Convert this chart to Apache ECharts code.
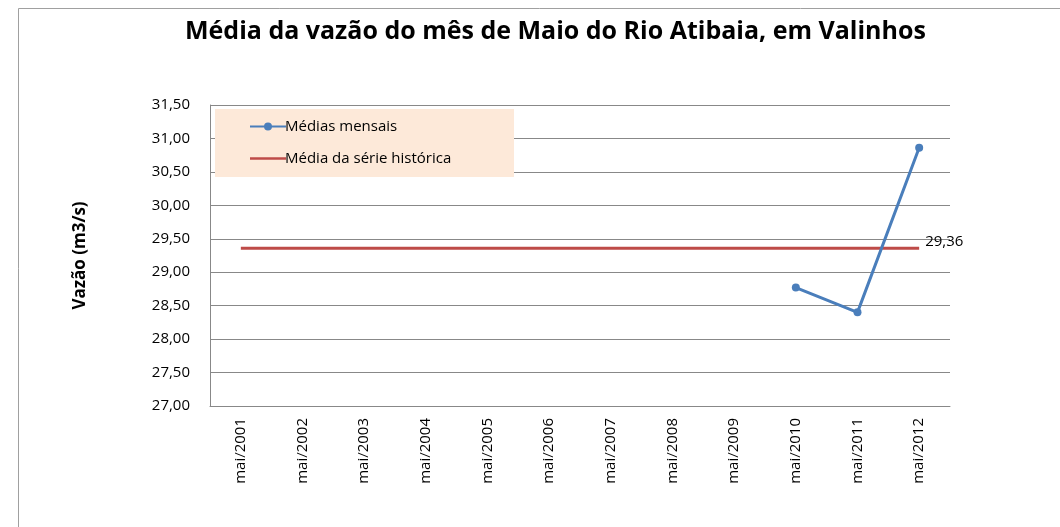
<!DOCTYPE html>
<html>
<head>
<meta charset="utf-8">
<script src="https://cdn.jsdelivr.net/npm/echarts@6/dist/echarts.min.js"></script>
<style>
  html, body { margin: 0; padding: 0; background: #fff; }
  #chart { width: 1060px; height: 527px; }
</style>
</head>
<body>
<div id="chart"></div>
<script>
// categorias do eixo x
var categorias = ['mai/2001', 'mai/2002', 'mai/2003', 'mai/2004', 'mai/2005', 'mai/2006',
  'mai/2007', 'mai/2008', 'mai/2009', 'mai/2010', 'mai/2011', 'mai/2012'];
// medias mensais (m3/s), so existem dados de 2010 em diante
var mediasMensais = [null, null, null, null, null, null, null, null, null, 28.77, 28.40, 30.86];
// media da serie historica
var mediaHistorica = [29.36, 29.36, 29.36, 29.36, 29.36, 29.36, 29.36, 29.36, 29.36, 29.36, 29.36, 29.36];

var fonte = 'Open Sans, Lato, sans-serif';
var chart = echarts.init(document.getElementById('chart'));

function virgula(v) {
  return v.toFixed(2).replace('.', ',');
}

chart.setOption({
  animation: false,
  textStyle: { fontFamily: fonte },
  title: {
    text: 'Média da vazão do mês de Maio do Rio Atibaia, em Valinhos',
    left: 180,
    top: 14,
    textStyle: { fontSize: 25, fontWeight: 'bold', color: '#000', fontFamily: fonte }
  },
  graphic: [
    // moldura do grafico
    { type: 'rect', shape: { x: 18.5, y: 8.5, width: 1100, height: 600 },
      style: { fill: 'none', stroke: '#a0a0a0', lineWidth: 1 }, z: 0 },
    // fundo da legenda
    { type: 'rect', shape: { x: 215, y: 109, width: 299, height: 68 },
      style: { fill: '#fde9d9' }, z: 1 }
  ],
  legend: {
    orient: 'vertical',
    left: 245,
    top: 114,
    itemWidth: 36,
    itemHeight: 8,
    itemGap: 17,
    textStyle: { fontSize: 15, color: '#000', fontFamily: fonte, padding: [0, 0, 0, -6] },
    data: [
      { name: 'Médias mensais',
        icon: 'path://M0,3 L36,3 L36,5 L0,5 Z M18,0 A4,4 0 1,1 18,8 A4,4 0 1,1 18,0 Z' },
      { name: 'Média da série histórica', icon: 'path://M0,3 L36,3 L36,5.5 L0,5.5 Z' }
    ]
  },
  grid: { left: 210, right: 110, top: 105, bottom: 121 },
  xAxis: {
    type: 'category',
    data: categorias,
    boundaryGap: true,
    axisLine: { lineStyle: { color: '#888', width: 1 } },
    axisTick: { show: false },
    axisLabel: { rotate: 90, fontSize: 15, color: '#000', margin: 12, interval: 0 }
  },
  yAxis: {
    type: 'value',
    min: 27,
    max: 31.5,
    interval: 0.5,
    name: 'Vazão (m3/s)',
    nameLocation: 'middle',
    nameGap: 121,
    nameTextStyle: { fontSize: 17, fontWeight: 'bold', color: '#000' },
    axisLine: { show: true, lineStyle: { color: '#888', width: 1 } },
    axisTick: { show: false },
    splitLine: { lineStyle: { color: '#888', width: 1 } },
    axisLabel: { fontSize: 15, color: '#000', margin: 20, formatter: virgula }
  },
  series: [
    {
      name: 'Médias mensais',
      type: 'line',
      data: mediasMensais,
      z: 3,
      symbol: 'circle',
      symbolSize: 8,
      color: '#4a7ebb',
      lineStyle: { width: 3, color: '#4a7ebb' },
      itemStyle: { color: '#4a7ebb' }
    },
    {
      name: 'Média da série histórica',
      type: 'line',
      data: mediaHistorica,
      z: 2,
      symbol: 'none',
      color: '#be4b48',
      lineStyle: { width: 3, color: '#be4b48' },
      endLabel: {
        show: true,
        fontSize: 15,
        color: '#000',
        distance: 6,
        offset: [0, -6],
        formatter: function (p) { return virgula(p.value); }
      }
    }
  ]
});
</script>
</body>
</html>
